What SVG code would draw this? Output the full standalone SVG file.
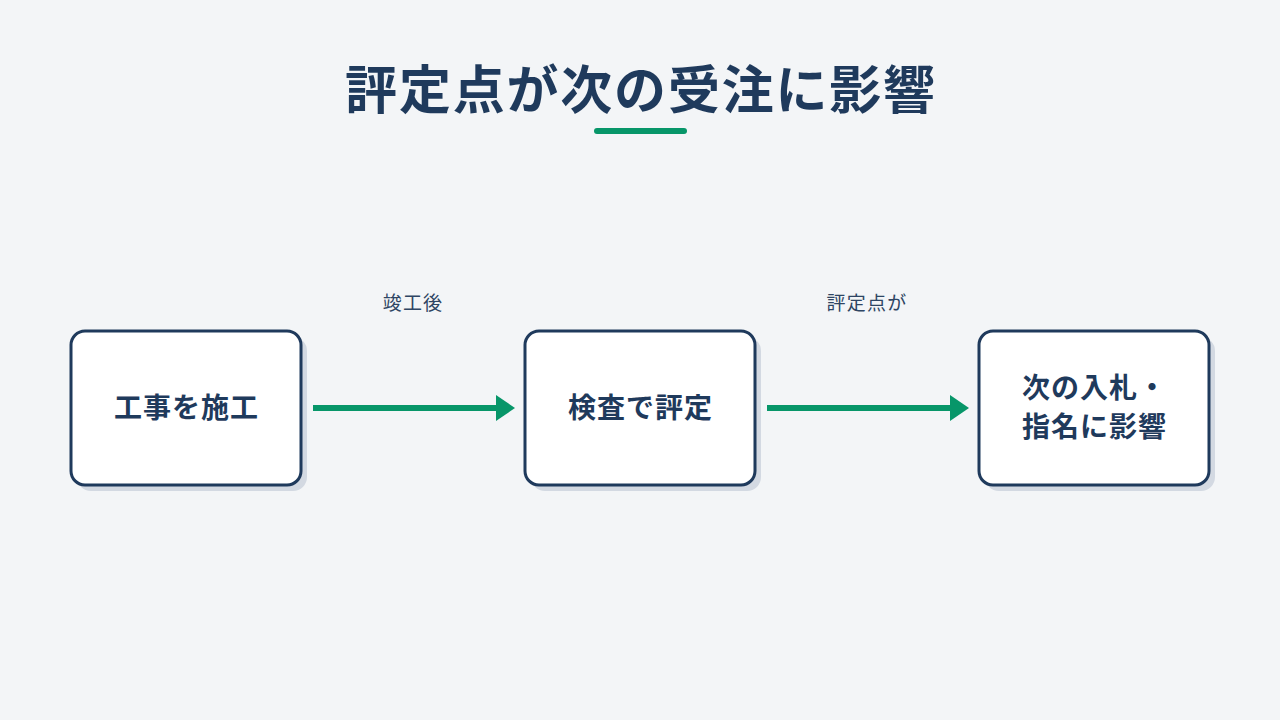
<svg xmlns="http://www.w3.org/2000/svg" width="1280" height="720" viewBox="0 0 1280 720">
<defs>
<style>
.bg{fill:#f3f5f7}
.shadow{fill:#d3d9e2}
.box{fill:#ffffff;stroke:#1f3a5c;stroke-width:3}
.t{font-family:"Noto Sans CJK JP","Noto Sans",sans-serif;fill:#1f3a5c}
.title{font-size:52px;font-weight:700;letter-spacing:1.8px}
.node{font-size:28px;font-weight:700;letter-spacing:1px}
.lbl{font-size:19px;font-weight:400;fill:#2e4563;letter-spacing:1.2px}
.edge{stroke:#079669;stroke-width:6;fill:none}
.head{fill:#079669}
</style>
</defs>
<rect class="bg" x="0" y="0" width="1280" height="720"/>
<g id="title">
<text class="t title" x="641" y="109" text-anchor="middle">評定点が次の受注に影響</text>
<rect x="594" y="128" width="93" height="6" rx="3" fill="#079669"/>
</g>
<g id="connectors">
<line class="edge" x1="313" y1="408" x2="498" y2="408"/>
<polygon class="head" points="496,395 515,408 496,421"/>
<text class="t lbl" x="413" y="310" text-anchor="middle">竣工後</text>
<line class="edge" x1="767" y1="408" x2="952" y2="408"/>
<polygon class="head" points="950,395 969,408 950,421"/>
<text class="t lbl" x="867" y="310" text-anchor="middle">評定点が</text>
</g>
<g id="node1">
<rect class="shadow" x="77" y="337" width="230" height="154" rx="14"/>
<rect class="box" x="71" y="331" width="230" height="154" rx="14"/>
<text class="t node" x="186.5" y="418" text-anchor="middle">工事を施工</text>
</g>
<g id="node2">
<rect class="shadow" x="531" y="337" width="230" height="154" rx="14"/>
<rect class="box" x="525" y="331" width="230" height="154" rx="14"/>
<text class="t node" x="640.5" y="418" text-anchor="middle">検査で評定</text>
</g>
<g id="node3">
<rect class="shadow" x="985" y="337" width="230" height="154" rx="14"/>
<rect class="box" x="979" y="331" width="230" height="154" rx="14"/>
<text class="t node" x="1094.5" y="398" text-anchor="middle">次の入札・</text>
<text class="t node" x="1094.5" y="437" text-anchor="middle">指名に影響</text>
</g>
</svg>
